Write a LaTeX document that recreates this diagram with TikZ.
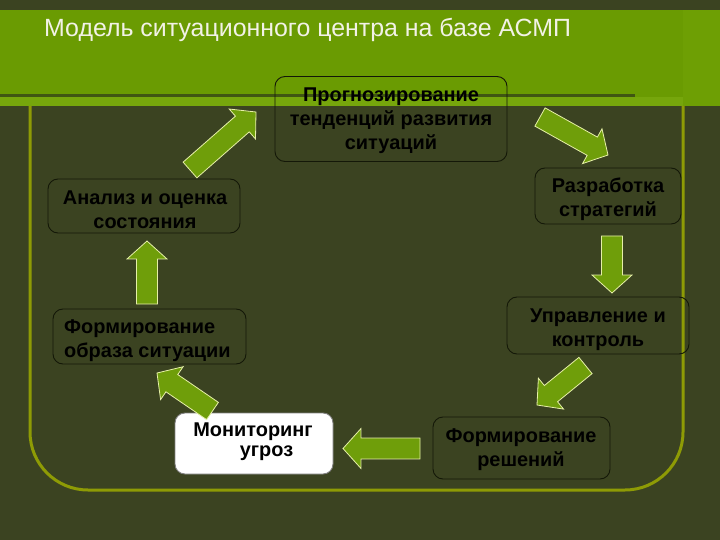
\documentclass[tikz,border=0pt]{standalone}
\usepackage{fontspec}
\setmainfont{Liberation Sans}
\usetikzlibrary{calc}
\definecolor{bg}{HTML}{3B4321}
\definecolor{band}{HTML}{6A9B02}
\definecolor{bandlight}{HTML}{76A60C}
\definecolor{bandline}{HTML}{405612}
\definecolor{bandright}{HTML}{6E9F04}
\definecolor{framecol}{HTML}{8E9B05}
\definecolor{arrfill}{HTML}{6F9E0A}
\definecolor{arredge}{HTML}{E6F0A8}
\definecolor{titlecol}{HTML}{F2F2E6}
\definecolor{boxline}{HTML}{141808}
\newcommand\blockarr[2]{%
  \filldraw[blockarrow] let \p1=($(#2)-(#1)$), \n1={atan2(\y1,\x1)}, \n2={veclen(\x1,\y1)-18} in
    ($(#1)+(\n1+90:10.5pt)$) -- ($(#1)+(\n1:\n2)+(\n1+90:10.5pt)$) -- ($(#1)+(\n1:\n2)+(\n1+90:20pt)$) -- (#2) -- ($(#1)+(\n1:\n2)+(\n1-90:20pt)$) -- ($(#1)+(\n1:\n2)+(\n1-90:10.5pt)$) -- ($(#1)+(\n1-90:10.5pt)$) -- cycle;}
\tikzset{
  blockarrow/.style={fill=arrfill, draw=arredge, line width=0.8bp, line join=miter},
  box/.style={draw=boxline, line width=0.9bp, rounded corners=10bp, inner sep=0pt},
  lbl/.style={font=\fontsize{20}{24}\selectfont\bfseries, text=black, align=center, inner sep=0pt},
  title/.style={font=\fontsize{25}{28}\selectfont, text=titlecol, inner sep=0pt},
  frame/.style={draw=framecol, line width=3bp, rounded corners=58bp}
}
\begin{document}
\begin{tikzpicture}[x=1bp,y=-1bp]
\useasboundingbox (0,0) rectangle (720,540);
\fill[bg] (0,0) rectangle (720,540);
\fill[band] (0,10) rectangle (720,106);
\fill[bandright] (683,10) rectangle (720,106);
\fill[bandlight] (0,97) rectangle (683,106);
\fill[bandline] (0,94) rectangle (635,97.5);
\draw[frame] (30,106) -- (30,490) -- (683,490) -- (683,106);
\node[title, anchor=base west] (title) at (44,37) {Модель ситуационного центра на базе АСМП};
% boxes
\node[box, minimum width=232bp, minimum height=85bp] (b1) at (391,119) {};
\node[box, minimum width=192bp, minimum height=54bp] (b2) at (144,206) {};
\node[box, minimum width=193bp, minimum height=55bp] (b3) at (149.5,336.5) {};
\node[box, minimum width=146bp, minimum height=56bp] (b4) at (608,196) {};
\node[box, minimum width=182bp, minimum height=57bp] (b5) at (598,325.5) {};
\node[box, fill=white, draw=gray, minimum width=158bp, minimum height=61bp] (b6) at (254,443.5) {};
\node[box, minimum width=177bp, minimum height=62bp] (b7) at (521.5,448) {};
% labels
\node[lbl] (t1) at (391,121) {Прогнозирование\\тенденций развития\\ситуаций};
\node[lbl] (t2) at (145,210) {Анализ и оценка\\состояния};
\node[lbl, align=left, anchor=west] (t3) at (64,340.5) {Формирование\\образа ситуации};
\node[lbl] (t4) at (608,199.5) {Разработка\\стратегий};
\node[lbl] (t5) at (598,330) {Управление и\\контроль};
\node[lbl, anchor=base] (t6a) at (253,436) {Мониторинг};
\node[lbl, anchor=base] (t6b) at (266.5,456) {угроз};
\node[lbl] (t7) at (521,450) {Формирование\\решений};
% arrow end points
\coordinate (a1s) at (190,170); \coordinate (a1e) at (256,112);
\coordinate (a2s) at (540,117); \coordinate (a2e) at (608,155);
\coordinate (a3s) at (612,236); \coordinate (a3e) at (612,293);
\coordinate (a4s) at (585.5,365.5); \coordinate (a4e) at (537,405);
\coordinate (a5s) at (420,448.5); \coordinate (a5e) at (343,448.5);
\coordinate (a6s) at (212.5,411); \coordinate (a6e) at (157,373);
\coordinate (a7s) at (147,304); \coordinate (a7e) at (147,241);
\blockarr{a1s}{a1e}
\blockarr{a2s}{a2e}
\blockarr{a3s}{a3e}
\blockarr{a4s}{a4e}
\blockarr{a5s}{a5e}
\blockarr{a6s}{a6e}
\blockarr{a7s}{a7e}
\end{tikzpicture}
\end{document}
